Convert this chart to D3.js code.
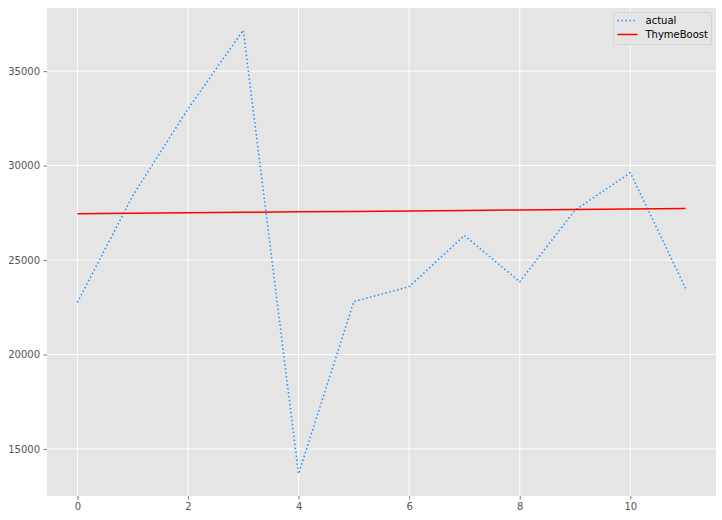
<!DOCTYPE html>
<html>
<head>
<meta charset="utf-8">
<script src="https://cdn.jsdelivr.net/npm/d3@7"></script>
<style>
  body { margin: 0; background: #fff; }
  svg text { font-family: "DejaVu Sans", sans-serif; }
</style>
</head>
<body>
<div id="chart"></div>
<script>
const steps = [0, 1, 2, 3, 4, 5, 6, 7, 8, 9, 10, 11]
const actual = [22750, 28400, 33000, 37170, 13680, 22800, 23590, 26300, 23850, 27640, 29620, 23500]
const thymeBoost = [27450, 27475, 27500, 27525, 27550, 27575, 27600, 27625, 27650, 27680, 27705, 27730]
const xTicks = [0, 2, 4, 6, 8, 10]
const yTicks = [15000, 20000, 25000, 30000, 35000]

const width = 722, height = 520
const margin = {top: 8, right: 6, bottom: 24, left: 47}

const svg = d3.select('#chart').append('svg')
  .attr('width', width).attr('height', height)

const x = d3.scaleLinear().domain([-0.55, 11.55]).range([margin.left, width - margin.right])
const yMin = d3.min(actual), yMax = d3.max(actual), pad = (yMax - yMin) * 0.05
const y = d3.scaleLinear().domain([yMin - pad, yMax + pad]).range([height - margin.bottom, margin.top])

svg.append('rect')
  .attr('x', margin.left).attr('y', margin.top)
  .attr('width', width - margin.left - margin.right)
  .attr('height', height - margin.top - margin.bottom)
  .attr('fill', '#e5e5e5')

// grid
svg.append('g').selectAll('line').data(xTicks).enter().append('line')
  .attr('x1', d => x(d)).attr('x2', d => x(d))
  .attr('y1', margin.top).attr('y2', height - margin.bottom)
  .attr('stroke', '#fff').attr('stroke-width', 1)
svg.append('g').selectAll('line').data(yTicks).enter().append('line')
  .attr('y1', d => y(d)).attr('y2', d => y(d))
  .attr('x1', margin.left).attr('x2', width - margin.right)
  .attr('stroke', '#fff').attr('stroke-width', 1)

// axes
const xAxis = svg.append('g')
  .attr('transform', `translate(0,${height - margin.bottom})`)
  .call(d3.axisBottom(x).tickValues(xTicks).tickSize(3.5).tickPadding(3.5))
const yAxis = svg.append('g')
  .attr('transform', `translate(${margin.left},0)`)
  .call(d3.axisLeft(y).tickValues(yTicks).tickSize(3.5).tickPadding(3.5).tickFormat(d3.format('d')))
for (const g of [xAxis, yAxis]) {
  g.select('.domain').remove()
  g.selectAll('line').attr('stroke', '#555').attr('stroke-width', 0.8)
  g.selectAll('text').attr('fill', '#555').attr('font-size', 10)
    .attr('font-family', '"DejaVu Sans", sans-serif')
}

const line = d3.line().x((d, i) => x(steps[i])).y(d => y(d))

svg.append('path').datum(actual)
  .attr('d', line)
  .attr('fill', 'none')
  .attr('stroke', '#1e90ff')
  .attr('stroke-width', 1.5)
  .attr('stroke-dasharray', '1.5,2.5')

svg.append('path').datum(thymeBoost)
  .attr('d', line)
  .attr('fill', 'none')
  .attr('stroke', 'red')
  .attr('stroke-width', 1.5)

// legend
const legend = svg.append('g').attr('transform', 'translate(613.5,12.5)')
legend.append('rect')
  .attr('width', 98).attr('height', 32).attr('rx', 2)
  .attr('fill', '#e5e5e5').attr('stroke', '#d0d0d0').attr('stroke-width', 0.8)
const items = [
  {name: 'actual', color: '#1e90ff', dash: '1.5,2.5'},
  {name: 'ThymeBoost', color: 'red', dash: null}
]
items.forEach((it, i) => {
  const row = legend.append('g').attr('transform', `translate(0,${8 + i * 14})`)
  row.append('line')
    .attr('x1', 4).attr('x2', 24)
    .attr('stroke', it.color).attr('stroke-width', 1.5)
    .attr('stroke-dasharray', it.dash)
  row.append('text')
    .attr('x', 32).attr('y', 0).attr('dy', '0.35em')
    .attr('font-size', 10).attr('fill', '#000')
    .text(it.name)
})
</script>
</body>
</html>
